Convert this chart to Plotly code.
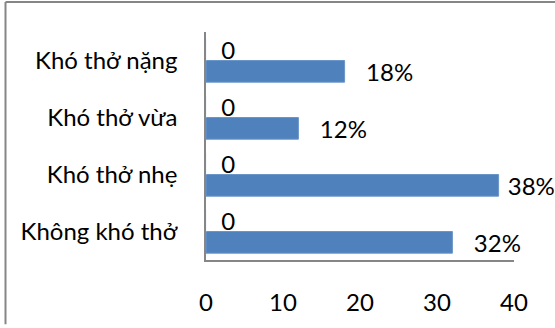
import plotly.graph_objects as go

categories = ["Không khó thở", "Khó thở nhẹ", "Khó thở vừa", "Khó thở nặng"]
percent_values = [32, 38, 12, 18]
zero_values = [0, 0, 0, 0]
x_ticks = [0, 10, 20, 30, 40]

W, H = 555, 328
L, R, T, B = 206, 41, 32, 65
pw, ph = W - L - R, H - T - B

NB = "\u00a0"
font = dict(family="Lato, 'Liberation Sans', sans-serif", size=24, color="#000000")

fig = go.Figure()
fig.add_trace(go.Bar(
    y=categories, x=percent_values, orientation="h",
    marker=dict(color="#4F81BD", line=dict(color="#6A95C9", width=1)),
    text=[f"{NB * (1 if v >= 35 else 3)}{v}%" for v in percent_values],
    textposition="outside", textfont=font, cliponaxis=False,
    constraintext="none",
    showlegend=False,
))
fig.add_trace(go.Bar(
    y=categories, x=zero_values, orientation="h",
    marker=dict(color="#C0504D"),
    text=[f"{NB*2}{v}" for v in zero_values],
    textposition="outside", textfont=font, cliponaxis=False,
    constraintext="none",
    showlegend=False,
))

fx0 = (5.5 - L) / pw
fy1 = 1 + (T - 1.5) / ph
fy0 = -(H - T - ph) / ph

fig.update_layout(
    width=W, height=H,
    margin=dict(l=L, r=R, t=T, b=B),
    barmode="group", bargap=0.24, bargroupgap=0,
    plot_bgcolor="white", paper_bgcolor="white",
    font=font,
    xaxis=dict(range=[0, 40], tickvals=x_ticks, showgrid=False, zeroline=False,
               showline=True, linecolor="#868686", linewidth=1.5,
               ticks="outside", ticklen=20, tickcolor="rgba(0,0,0,0)",
               tickfont=font),
    yaxis=dict(showgrid=False, zeroline=False, showline=True,
               linecolor="#868686", linewidth=1.5,
               ticks="outside", ticklen=22, tickcolor="rgba(0,0,0,0)",
               tickfont=font),
    shapes=[
        dict(type="line", xref="paper", yref="paper",
             x0=fx0, x1=fx0, y0=fy0, y1=fy1,
             line=dict(color="#868686", width=2)),
        dict(type="line", xref="paper", yref="paper",
             x0=fx0, x1=(W - L) / pw, y0=fy1, y1=fy1,
             line=dict(color="#868686", width=2)),
    ],
)

fig.write_html("out.html")
